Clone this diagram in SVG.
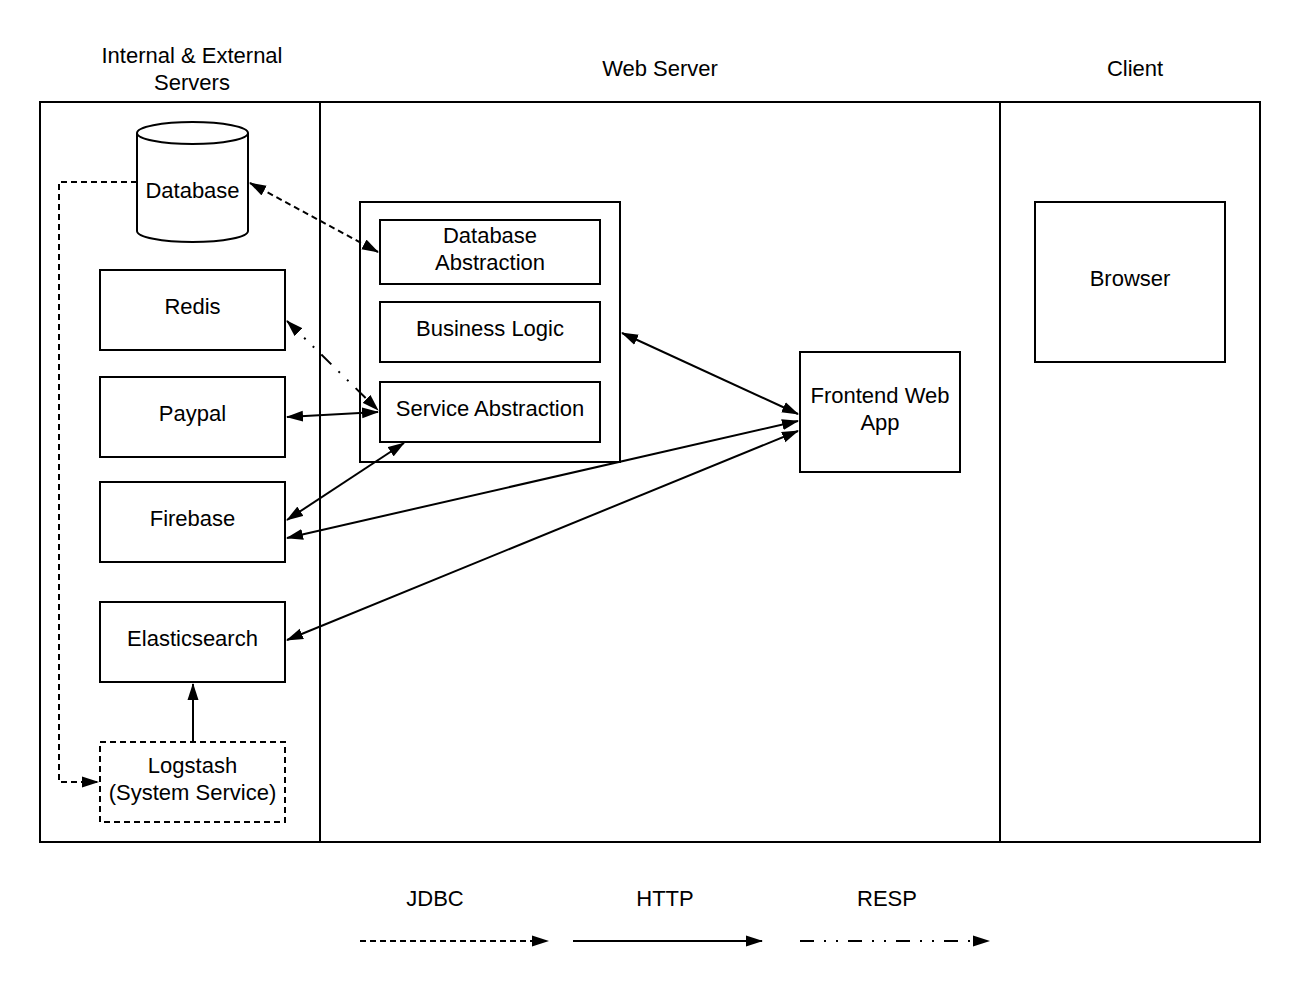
<svg xmlns="http://www.w3.org/2000/svg" width="1300" height="986" viewBox="0 0 1300 986">
<style>
  .b{fill:#fff;stroke:#000;stroke-width:2}
  .t{font-family:"Liberation Sans",Arial,sans-serif;font-size:22px;fill:#000;text-anchor:middle}
  .c{fill:none;stroke:#000;stroke-width:2}
  .jdbc{stroke-dasharray:6 4}
  .resp{stroke-dasharray:14 10 2 10 2 10}
</style>
<defs>
  <marker id="ah" viewBox="0 0 17 12" refX="16" refY="6" markerWidth="17" markerHeight="12" markerUnits="userSpaceOnUse" orient="auto-start-reverse">
    <path d="M0,0.5 L17,6 L0,11.5 z" fill="#000"/>
  </marker>
</defs>
<rect width="1300" height="986" fill="#fff"/>
<g id="headers">
  <text class="t" x="192" y="63">Internal &amp; External</text>
  <text class="t" x="192" y="90">Servers</text>
  <text class="t" x="660" y="76">Web Server</text>
  <text class="t" x="1135" y="76">Client</text>
</g>
<g id="frame">
  <rect class="b" x="40" y="102" width="1220" height="740"/>
  <line class="c" x1="320" y1="102" x2="320" y2="842"/>
  <line class="c" x1="1000" y1="102" x2="1000" y2="842"/>
</g>
<g id="database">
  <path class="b" d="M137,133 L137,231 A55.5,11 0 0 0 248,231 L248,133 A55.5,11 0 0 0 137,133 Z"/>
  <path class="c" d="M137,133 A55.5,11 0 0 0 248,133"/>
  <text class="t" x="192.5" y="198">Database</text>
</g>
<g id="redis"><rect class="b" x="100" y="270" width="185" height="80"/><text class="t" x="192.5" y="314">Redis</text></g>
<g id="paypal"><rect class="b" x="100" y="377" width="185" height="80"/><text class="t" x="192.5" y="421">Paypal</text></g>
<g id="firebase"><rect class="b" x="100" y="482" width="185" height="80"/><text class="t" x="192.5" y="526">Firebase</text></g>
<g id="elasticsearch"><rect class="b" x="100" y="602" width="185" height="80"/><text class="t" x="192.5" y="646">Elasticsearch</text></g>
<g id="logstash"><rect class="b jdbc" x="100" y="742" width="185" height="80"/><text class="t" x="192.5" y="773">Logstash</text><text class="t" x="192.5" y="800">(System Service)</text></g>
<g id="webapp-container"><rect class="b" x="360" y="202" width="260" height="260"/></g>
<g id="db-abstraction"><rect class="b" x="380" y="220" width="220" height="64"/><text class="t" x="490" y="243">Database</text><text class="t" x="490" y="270">Abstraction</text></g>
<g id="business-logic"><rect class="b" x="380" y="302" width="220" height="60"/><text class="t" x="490" y="336">Business Logic</text></g>
<g id="service-abstraction"><rect class="b" x="380" y="382" width="220" height="60"/><text class="t" x="490" y="416">Service Abstraction</text></g>
<g id="frontend"><rect class="b" x="800" y="352" width="160" height="120"/><text class="t" x="880" y="403">Frontend Web</text><text class="t" x="880" y="430">App</text></g>
<g id="browser"><rect class="b" x="1035" y="202" width="190" height="160"/><text class="t" x="1130" y="286">Browser</text></g>
<g id="connectors">
  <line class="c jdbc" x1="250" y1="183" x2="378" y2="252" marker-start="url(#ah)" marker-end="url(#ah)"/>
  <line class="c resp" x1="287" y1="321" x2="378" y2="410" marker-start="url(#ah)" marker-end="url(#ah)"/>
  <line class="c" x1="287" y1="417" x2="378" y2="412" marker-start="url(#ah)" marker-end="url(#ah)"/>
  <line class="c" x1="404" y1="443" x2="287" y2="520" marker-start="url(#ah)" marker-end="url(#ah)"/>
  <line class="c" x1="622" y1="333" x2="798" y2="414" marker-start="url(#ah)" marker-end="url(#ah)"/>
  <line class="c" x1="798" y1="421" x2="287" y2="538" marker-start="url(#ah)" marker-end="url(#ah)"/>
  <line class="c" x1="798" y1="431" x2="287" y2="640" marker-start="url(#ah)" marker-end="url(#ah)"/>
  <line class="c" x1="193" y1="742" x2="193" y2="684" marker-end="url(#ah)"/>
  <polyline class="c jdbc" points="137,182 59,182 59,782 98,782" marker-end="url(#ah)"/>
</g>
<g id="legend">
  <text class="t" x="435" y="906">JDBC</text>
  <text class="t" x="665" y="906">HTTP</text>
  <text class="t" x="887" y="906">RESP</text>
  <line class="c jdbc" x1="360" y1="941" x2="548" y2="941" marker-end="url(#ah)"/>
  <line class="c" x1="573" y1="941" x2="762" y2="941" marker-end="url(#ah)"/>
  <line class="c resp" x1="800" y1="941" x2="989" y2="941" marker-end="url(#ah)"/>
</g>
</svg>
